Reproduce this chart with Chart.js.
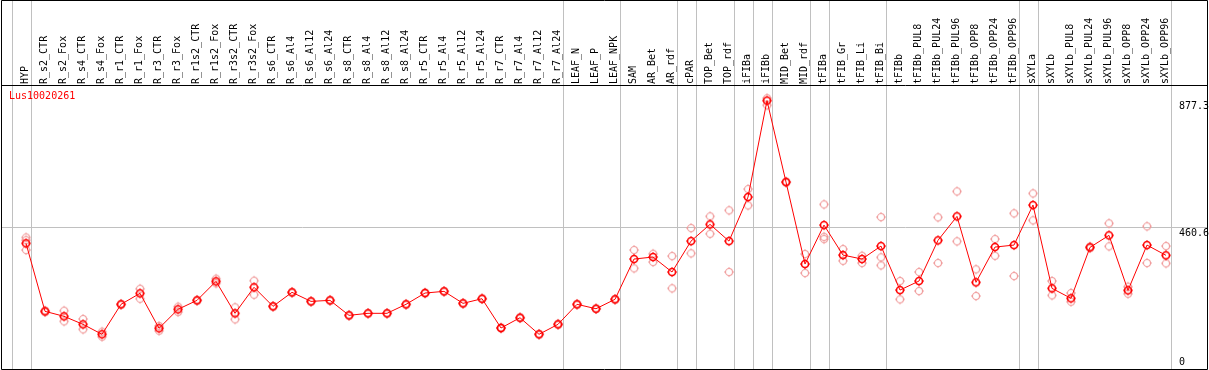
<!DOCTYPE html>
<html>
<head>
<meta charset="utf-8">
<script src="https://cdn.jsdelivr.net/npm/chart.js@4"></script>
<style>
    html, body { margin: 0; padding: 0; background: #fff; overflow: hidden; }
    canvas { display: block; }
</style>
</head>
<body>
<canvas id="exprChart" width="1209" height="370"></canvas>
<script>
// sample names (header labels)
const categories = [
    'HYP', 'R_s2_CTR', 'R_s2_Fox', 'R_s4_CTR', 'R_s4_Fox', 'R_r1_CTR', 'R_r1_Fox', 'R_r3_CTR', 'R_r3_Fox',
    'R_r1s2_CTR', 'R_r1s2_Fox', 'R_r3s2_CTR', 'R_r3s2_Fox', 'R_s6_CTR', 'R_s6_Al4', 'R_s6_Al12', 'R_s6_Al24',
    'R_s8_CTR', 'R_s8_Al4', 'R_s8_Al12', 'R_s8_Al24', 'R_r5_CTR', 'R_r5_Al4', 'R_r5_Al12', 'R_r5_Al24',
    'R_r7_CTR', 'R_r7_Al4', 'R_r7_Al12', 'R_r7_Al24', 'LEAF_N', 'LEAF_P', 'LEAF_NPK', 'SAM', 'AR_Bet', 'AR_rdf',
    'cPAR', 'TOP_Bet', 'TOP_rdf', 'iFIBa', 'iFIBb', 'MID_Bet', 'MID_rdf', 'tFIBa', 'tFIB_Gr', 'tFIB_Li', 'tFIB_Bi',
    'tFIBb', 'tFIBb_PUL8', 'tFIBb_PUL24', 'tFIBb_PUL96', 'tFIBb_OPP8', 'tFIBb_OPP24', 'tFIBb_OPP96',
    'sXYLa', 'sXYLb', 'sXYLb_PUL8', 'sXYLb_PUL24', 'sXYLb_PUL96', 'sXYLb_OPP8', 'sXYLb_OPP24', 'sXYLb_OPP96'
];

// mean expression per sample
const meanValues = [
    410.7, 188.5, 172.2, 146, 113.4, 211.4, 247.3, 133, 195,
    224.4, 286.5, 182, 267, 204.8, 250.6, 221, 224.4,
    175.4, 182, 182, 211.4, 248.3, 253.8, 214.6, 229.7,
    134, 167.6, 113.4, 146, 211.4, 197, 227.7, 359.4, 366, 317,
    418, 472.7, 418, 562, 877.3, 611, 343, 470.4, 372.4, 359.4, 401.8,
    258, 287.5, 420.5, 498.9, 283.3, 398.6, 405,
    535.8, 263.6, 231, 397.6, 436.8, 257, 405, 371.5
];

// replicates (light circles)
const repHigh = [
    430, 191, 190.5, 163.4, 121.9, 213, 262.3, 140.5, 203.5,
    226, 295, 201.6, 288.5, 206, 252, 222, 226,
    177, 183, 183, 213, 250, 255, 216, 231,
    136, 169, 115, 148, 213, 198, 229, 388.8, 376.7, 369,
    460.6, 498.9, 518.5, 588, 885, 613, 375.7, 538, 392, 370, 496.6,
    287.5, 317, 495.6, 580.5, 325.7, 424.7, 508.7,
    574, 287.5, 248.3, 400, 476, 268.9, 466.2, 401.8
];
const repLow = [
    388.8, 186, 155.8, 129.7, 105.5, 210, 229.7, 125, 186.2,
    223, 280, 162.4, 242.7, 203.5, 249, 220, 223,
    174, 181, 181, 210, 247, 252.5, 213, 228.5,
    132, 166, 112, 144.5, 210, 196, 226.5, 329, 349.6, 263.6,
    378, 442, 317, 534.8, 862, 609, 313.6, 424.7, 353.8, 346.3, 338.8,
    227.7, 254.8, 346.3, 417.2, 238.5, 370, 303.8,
    485.8, 240.8, 219.9, 395, 400.9, 246, 346.3, 345.3
];
const repExtra = [
    421, null, null, null, null, null, null, null, null,
    null, null, null, null, null, null, null, null,
    null, null, null, null, null, null, null, null,
    null, null, null, null, null, null, null, null, null, null,
    null, null, null, null, null, null, null, 432, null, null, 365,
    null, null, null, null, null, null, null,
    null, null, null, null, null, null, null, null
];

// group separators come after these sample indices
const groupEnds = [-1, 0, 28, 31, 34, 35, 37, 38, 39, 41, 42, 45, 52, 53, 60];
const yTicks = [0, 460.6, 877.3];
const yTickLabels = ['0', '460.6', '877.3'];
const gridValues = [460.6];
const geneName = 'Lus10020261';

const FONT = '10px "DejaVu Sans Mono", monospace';

// small circle with four tick stubs, like the original plot symbols
function makeMarker(color, width) {
    const c = document.createElement('canvas');
    c.width = 12; c.height = 12;
    const g = c.getContext('2d');
    g.strokeStyle = color;
    g.lineWidth = width;
    g.beginPath();
    g.arc(6, 6, 3.5, 0, Math.PI * 2);
    g.stroke();
    g.fillStyle = color;
    g.fillRect(5.5, 1, 1, 1);
    g.fillRect(5.5, 10, 1, 1);
    g.fillRect(1, 5.5, 1, 1);
    g.fillRect(10, 5.5, 1, 1);
    return c;
}

const toPoints = arr => arr.map((v, i) => ({ x: i, y: v }));

const meanMarker = makeMarker('#ff0000', 1.6);
const repMarker = makeMarker('#f09a9a', 1.1);

// grid lines, header labels, axis labels and frame
const framePlugin = {
    id: 'framePlugin',
    beforeDatasetsDraw(chart) {
        const { ctx, chartArea: a, scales: { x, y } } = chart;
        ctx.save();
        ctx.strokeStyle = '#c0c0c0';
        ctx.lineWidth = 1;
        ctx.beginPath();
        groupEnds.forEach(i => {
            const px = Math.round(x.getPixelForValue(i + 0.24)) + 0.5;
            ctx.moveTo(px, 0);
            ctx.lineTo(px, a.bottom);
        });
        gridValues.forEach(v => {
            const py = Math.round(y.getPixelForValue(v)) - 0.5;
            ctx.moveTo(a.left, py);
            ctx.lineTo(a.right, py);
        });
        ctx.stroke();

        // vertical sample names
        ctx.fillStyle = '#000';
        ctx.font = FONT;
        ctx.textAlign = 'left';
        ctx.textBaseline = 'middle';
        categories.forEach((c, i) => {
            ctx.save();
            ctx.translate(Math.round(x.getPixelForValue(i)) - 0.5, a.top - 2);
            ctx.rotate(-Math.PI / 2);
            ctx.fillText(c, 0, 0);
            ctx.restore();
        });

        ctx.fillStyle = '#ff0000';
        ctx.textBaseline = 'top';
        ctx.fillText(geneName, a.left + 8, a.top + 5);
        ctx.restore();
    },
    afterDraw(chart) {
        const { ctx, chartArea: a, scales: { y } } = chart;
        ctx.save();
        ctx.fillStyle = '#000';
        ctx.font = FONT;
        ctx.textAlign = 'left';
        yTicks.forEach((v, i) => {
            const py = y.getPixelForValue(v);
            if (py > a.bottom - 12) {
                ctx.textBaseline = 'alphabetic';
                ctx.fillText(yTickLabels[i], a.right - 28, a.bottom - 4);
            } else {
                ctx.textBaseline = 'top';
                ctx.fillText(yTickLabels[i], a.right - 28, Math.round(py));
            }
        });

        // black frame
        ctx.strokeStyle = '#000';
        ctx.lineWidth = 1;
        ctx.beginPath();
        ctx.moveTo(a.left + 0.5, 0.5);
        ctx.lineTo(a.right + 0.5, 0.5);
        ctx.lineTo(a.right + 0.5, a.bottom + 0.5);
        ctx.lineTo(a.left + 0.5, a.bottom + 0.5);
        ctx.closePath();
        ctx.moveTo(a.left, a.top - 0.5);
        ctx.lineTo(a.right, a.top - 0.5);
        ctx.stroke();
        ctx.restore();
    }
};

const repStyle = {
    showLine: false,
    pointStyle: repMarker,
    pointRadius: 6,
    borderColor: '#f09a9a',
    backgroundColor: '#f09a9a'
};

new Chart(document.getElementById('exprChart'), {
    type: 'line',
    data: {
        datasets: [
            {
                label: 'mean',
                data: toPoints(meanValues),
                borderColor: '#ff0000',
                backgroundColor: '#ff0000',
                borderWidth: 1,
                tension: 0,
                pointStyle: meanMarker,
                pointRadius: 6
            },
            Object.assign({ label: 'rep1', data: toPoints(repHigh) }, repStyle),
            Object.assign({ label: 'rep2', data: toPoints(repLow) }, repStyle),
            Object.assign({ label: 'rep3', data: toPoints(repExtra) }, repStyle)
        ]
    },
    options: {
        responsive: false,
        devicePixelRatio: 1,
        animation: false,
        layout: { autoPadding: false, padding: { top: 86, left: 1, right: 2, bottom: 1 } },
        plugins: {
            legend: { display: false },
            tooltip: { enabled: false }
        },
        scales: {
            x: { type: 'linear', min: -1.316, max: 62.158, display: false },
            y: { min: 0, max: 925, display: false }
        }
    },
    plugins: [framePlugin]
});
</script>
</body>
</html>
